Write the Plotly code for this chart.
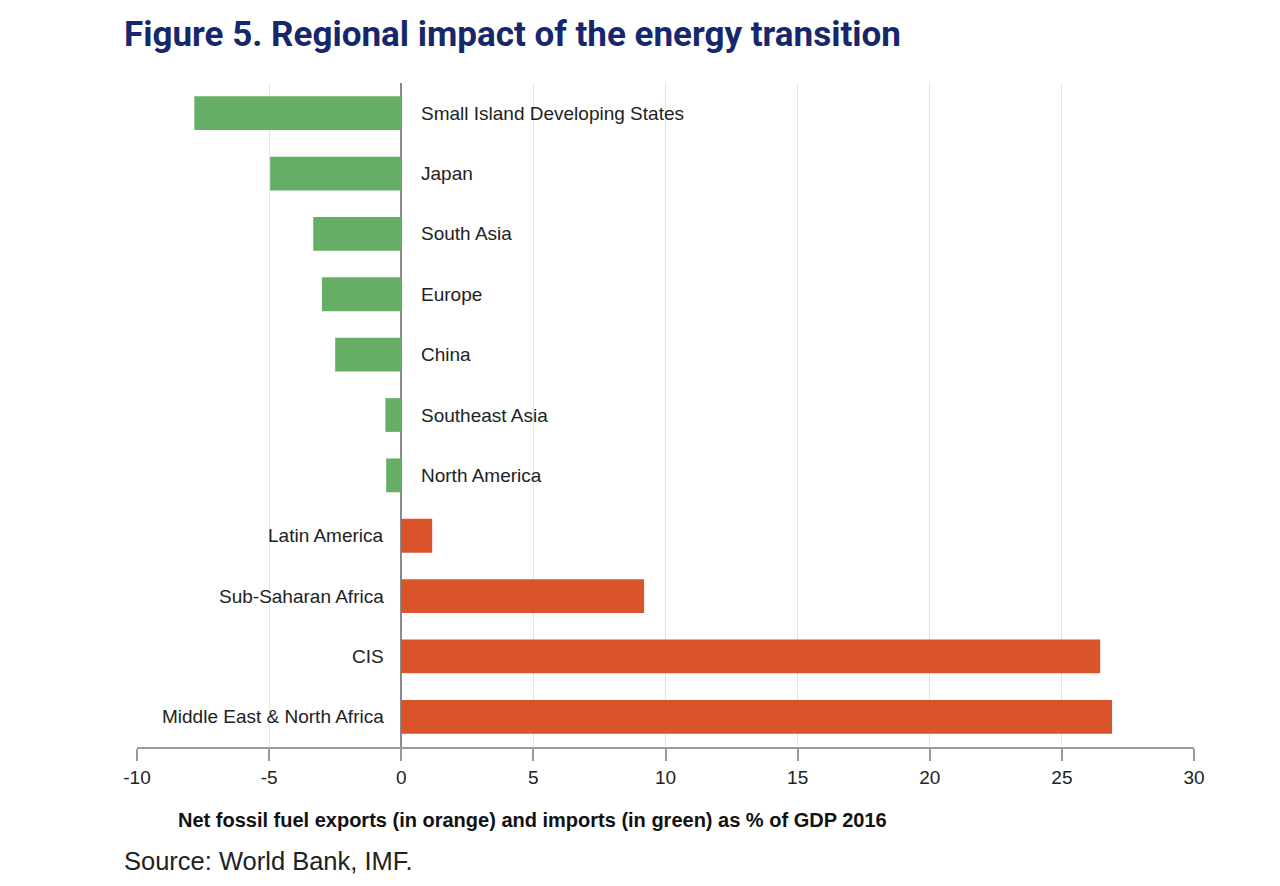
import plotly.graph_objects as go

regions = ["Small Island Developing States", "Japan", "South Asia", "Europe", "China",
           "Southeast Asia", "North America", "Latin America", "Sub-Saharan Africa",
           "CIS", "Middle East & North Africa"]
values = [-7.83, -4.96, -3.33, -3.0, -2.5, -0.6, -0.57, 1.17, 9.19, 26.45, 26.9]
tick_vals = [-10, -5, 0, 5, 10, 15, 20, 25, 30]
tick_text = ["-10", "-5", "0", "5", "10", "15", "20", "25", "30"]

GREEN = "#66ad66"
ORANGE = "#d9542b"
colors = [GREEN if v < 0 else ORANGE for v in values]

# page body has an 8px margin; figure is sized/offset to compensate
W, H = 1264, 870
L, R, T, B = 129, 78, 75, 131
PW = W - L - R
PH = H - T - B


def px(xp):
    return (xp - L) / PW


def py(yp):
    return (T + PH - yp) / PH


fig = go.Figure()
fig.add_trace(go.Bar(
    x=values, y=regions, orientation="h",
    marker=dict(color=colors, line=dict(width=0)),
    width=0.56, hoverinfo="x+y",
))

for r, v in zip(regions, values):
    if v < 0:
        fig.add_annotation(x=0, y=r, xref="x", yref="y", text=r, showarrow=False,
                           xanchor="left", xshift=18,
                           font=dict(family="Liberation Sans, Arial", size=19, color="#222"))
    else:
        fig.add_annotation(x=0, y=r, xref="x", yref="y", text=r, showarrow=False,
                           xanchor="right", xshift=-15,
                           font=dict(family="Liberation Sans, Arial", size=19, color="#222"))

fig.update_layout(
    width=W, height=H,
    margin=dict(l=L, r=R, t=T, b=B),
    paper_bgcolor="white", plot_bgcolor="white",
    showlegend=False,
    xaxis=dict(range=[-10, 30], tickvals=tick_vals, ticktext=tick_text,
               showgrid=True, gridcolor="#e2e2ea", gridwidth=1,
               zeroline=True, zerolinecolor="#8a8a8a", zerolinewidth=1.5,
               showline=True, linecolor="#9a9a9a", linewidth=1.5,
               ticks="outside", ticklen=12, tickcolor="#9a9a9a", tickwidth=1.5,
               tickfont=dict(family="Liberation Sans, Arial", size=19, color="#222"),
               fixedrange=True),
    yaxis=dict(categoryorder="array", categoryarray=regions[::-1],
               showticklabels=False, showgrid=False, zeroline=False,
               range=[-0.5, 10.5], fixedrange=True),
)

fig.add_annotation(x=px(114), y=py(27), xref="paper", yref="paper",
                   xanchor="left", yanchor="middle", showarrow=False,
                   text="<b>Figure 5. Regional impact of the energy transition</b>",
                   font=dict(family="Roboto, Liberation Sans", size=35, color="#16276b"))
fig.add_annotation(x=px(524), y=py(812), xref="paper", yref="paper",
                   xanchor="center", yanchor="middle", showarrow=False,
                   text="<b>Net fossil fuel exports (in orange) and imports (in green) as % of GDP 2016</b>",
                   font=dict(family="Liberation Sans, Arial", size=20, color="#111"))
fig.add_annotation(x=px(114), y=py(869), xref="paper", yref="paper",
                   xanchor="left", yanchor="bottom", showarrow=False,
                   text="Source: World Bank, IMF.",
                   font=dict(family="Liberation Sans, Arial", size=25.5, color="#222"))

fig.write_html("out.html")
